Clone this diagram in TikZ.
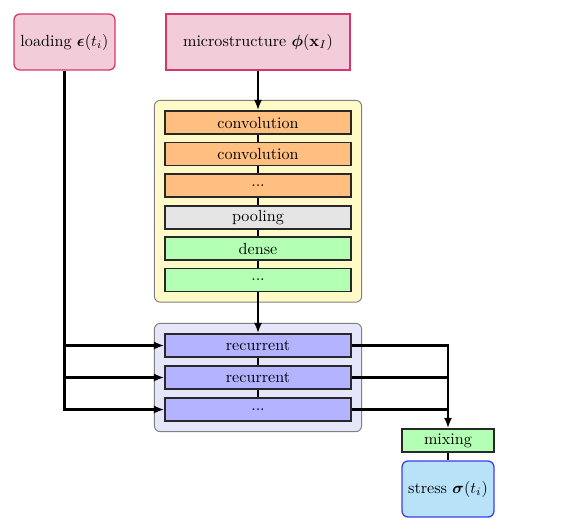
\documentclass[tikz,border=0pt]{standalone}
\usepackage{amsmath,bm}
\usetikzlibrary{fit,backgrounds,arrows.meta}
\definecolor{pinkfill}{RGB}{242,204,217}
\definecolor{pinkdraw}{RGB}{214,54,110}
\definecolor{convfill}{RGB}{255,191,128}
\definecolor{poolfill}{RGB}{229,229,229}
\definecolor{densefill}{RGB}{179,255,179}
\definecolor{recfill}{RGB}{179,179,255}
\definecolor{yelfill}{RGB}{255,250,200}
\definecolor{purfill}{RGB}{230,230,250}
\definecolor{stressfill}{RGB}{184,226,248}
\definecolor{stressdraw}{RGB}{60,60,235}
\definecolor{boxdraw}{RGB}{40,40,40}
\tikzset{
  inbox/.style={draw=pinkdraw, fill=pinkfill, line width=0.8pt, minimum height=34.7pt, inner sep=0pt, align=center},
  layer/.style={draw=boxdraw, line width=0.8pt, minimum width=115.3pt, minimum height=14.3pt, inner sep=0pt},
  smallbox/.style={draw=boxdraw, line width=0.8pt, minimum width=57pt, minimum height=14.3pt, inner sep=0pt},
  container/.style={draw=gray, line width=0.6pt, rounded corners=3.7pt, inner sep=6.2pt},
  conn/.style={line width=1.4pt},
  arr/.style={conn, -{Latex[length=6.5pt,width=5pt]}}
}
\begin{document}
\begin{tikzpicture}[x=0.62pt,y=-0.62pt]
\useasboundingbox (0,0) rectangle (581,531);
\node[inbox, rounded corners=3.7pt, minimum width=62.6pt] (load) at (64.5,42) {loading $\boldsymbol{\epsilon}(t_i)$};
\node[inbox, minimum width=114.1pt] (micro) at (258,42) {microstructure $\boldsymbol{\phi}(\mathbf{x}_I)$};
\node[layer, fill=convfill] (c1) at (258,122.5) {convolution};
\node[layer, fill=convfill] (c2) at (258,154) {convolution};
\node[layer, fill=convfill] (c3) at (258,185.5) {...};
\node[layer, fill=poolfill] (p1) at (258,217.5) {pooling};
\node[layer, fill=densefill] (d1) at (258,248.5) {dense};
\node[layer, fill=densefill] (d2) at (258,280) {...};
\node[layer, fill=recfill] (r1) at (258,345.5) {recurrent};
\node[layer, fill=recfill] (r2) at (258,377.5) {recurrent};
\node[layer, fill=recfill] (r3) at (258,409.5) {...};
\node[smallbox, fill=densefill] (mix) at (448,440.5) {mixing};
\node[draw=stressdraw, fill=stressfill, line width=0.8pt, rounded corners=3.7pt, minimum width=57pt, minimum height=34.7pt, inner sep=0pt] (stress) at (448,489) {stress $\boldsymbol{\sigma}(t_i)$};
\begin{scope}[on background layer]
\node[container, fill=yelfill, fit=(c1)(d2)] (cnn) {};
\node[container, fill=purfill, fit=(r1)(r3)] (rnn) {};
\end{scope}
\draw[arr] (micro.south) -- (c1.north);
\draw[conn] (c1) -- (c2) (c2) -- (c3) (c3) -- (p1) (p1) -- (d1) (d1) -- (d2);
\draw[arr] (d2.south) -- (r1.north);
\draw[conn] (r1) -- (r2) (r2) -- (r3);
\draw[arr] (load.south) |- (r3.west);
\draw[arr] (load.south |- r1.west) -- (r1.west);
\draw[arr] (load.south |- r2.west) -- (r2.west);
\draw[arr] (r1.east) -| (mix.north);
\draw[conn] (r2.east) -- (r2.east -| mix.north);
\draw[conn] (r3.east) -- (r3.east -| mix.north);
\draw[conn] (mix) -- (stress);
\end{tikzpicture}
\end{document}
